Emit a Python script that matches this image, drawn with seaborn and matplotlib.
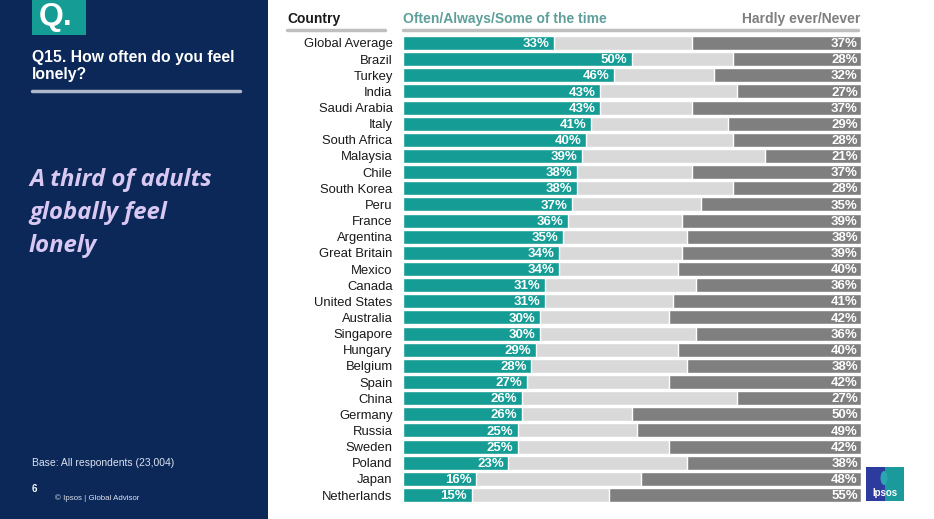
import matplotlib
matplotlib.use("Agg")
import matplotlib.pyplot as plt
import matplotlib.patches as mpatches
import pandas as pd
import seaborn as sns

# --- Data ---
countries = [
    "Global Average", "Brazil", "Turkey", "India", "Saudi Arabia", "Italy",
    "South Africa", "Malaysia", "Chile", "South Korea", "Peru", "France",
    "Argentina", "Great Britain", "Mexico", "Canada", "United States",
    "Australia", "Singapore", "Hungary", "Belgium", "Spain", "China",
    "Germany", "Russia", "Sweden", "Poland", "Japan", "Netherlands",
]
often = [33, 50, 46, 43, 43, 41, 40, 39, 38, 38, 37, 36, 35, 34, 34, 31, 31,
         30, 30, 29, 28, 27, 26, 26, 25, 25, 23, 16, 15]
never = [37, 28, 32, 27, 37, 29, 28, 21, 37, 28, 35, 39, 38, 39, 40, 36, 41,
         42, 36, 40, 38, 42, 27, 50, 49, 42, 38, 48, 55]

# --- Colours ---
NAVY = "#0b2859"
TEAL = "#149c95"
LIGHT = "#d9d9d9"
DARK = "#7f7f7f"

df = pd.DataFrame({"Country": countries, "often": often, "never": never})
df["total"] = 100
df["upto_mid"] = 100 - df["never"]

sns.set_style("white")
plt.rcParams["font.family"] = ["Liberation Sans", "DejaVu Sans"]

W, H = 934, 519
fig = plt.figure(figsize=(W / 100, H / 100), dpi=100)
fig.patch.set_facecolor("white")


def fx(px):
    return px / W


def fy(py):
    return 1 - py / H


# --- Left panel ---
fig.patches.append(mpatches.Rectangle((0, 0), fx(268), 1, transform=fig.transFigure,
                                      facecolor=NAVY, edgecolor="none", zorder=0))
fig.patches.append(mpatches.Rectangle((fx(32), fy(35)), fx(54), fy(0) - fy(35),
                                      transform=fig.transFigure, facecolor=TEAL,
                                      edgecolor="none", zorder=1))
fig.text(fx(39), fy(17), "Q.", color="white", fontsize=23, fontweight="bold",
         va="center", ha="left")
fig.text(fx(32), fy(66), "Q15. How often do you feel\nlonely?", color="white",
         fontsize=11.3, fontweight="bold", va="center", ha="left", linespacing=1.2)
fig.add_artist(plt.Line2D([fx(32), fx(240)], [fy(91), fy(91)], color="#aeb9cc",
                          lw=2.5, transform=fig.transFigure))
fig.text(fx(29), fy(213), "A third of adults\nglobally feel\nlonely", color="#d8c8f2",
         fontsize=17.2, fontweight="bold", style="italic", va="center", ha="left",
         linespacing=1.5, family=["Open Sans", "DejaVu Sans"])
fig.text(fx(32), fy(463), "Base: All respondents (23,004)", color="#dde3ee",
         fontsize=7.5, va="center", ha="left")
fig.text(fx(32), fy(489), "6", color="white", fontsize=7, fontweight="bold",
         va="center", ha="left")
fig.text(fx(55), fy(498), "\u00a9 Ipsos | Global Advisor", color="#dde3ee",
         fontsize=5.7, va="center", ha="left")

# --- Header ---
fig.text(fx(287), fy(19), "Country", color="#1a1a1a", fontsize=10,
         fontweight="bold", va="center", ha="left")
fig.text(fx(403), fy(19), "Often/Always/Some of the time", color="#5e9f9b",
         fontsize=10, fontweight="bold", va="center", ha="left")
fig.text(fx(860), fy(19), "Hardly ever/Never", color="#7f7f7f", fontsize=10,
         fontweight="bold", va="center", ha="right")
for x0, x1 in [(287, 385), (403, 858)]:
    fig.add_artist(plt.Line2D([fx(x0), fx(x1)], [fy(29.5), fy(29.5)], color="#bfbfbf",
                              lw=2.5, transform=fig.transFigure))

# --- Bars ---
top_px, bottom_px = 34.9, 503.1
ax = fig.add_axes([fx(403), fy(bottom_px), fx(861) - fx(403),
                   (bottom_px - top_px) / H])
bar_w = 0.87
sns.barplot(data=df, y="Country", x="total", color=DARK, width=bar_w,
            orient="h", ax=ax, saturation=1)
sns.barplot(data=df, y="Country", x="upto_mid", color=LIGHT, width=bar_w,
            orient="h", ax=ax, saturation=1)
sns.barplot(data=df, y="Country", x="often", color=TEAL, width=bar_w,
            orient="h", ax=ax, saturation=1)

ax.set_xlim(0, 100)
ax.set_ylim(len(countries) - 0.5, -0.5)
ax.set_xlabel("")
ax.set_ylabel("")
ax.set_xticks([])
ax.tick_params(axis="y", length=0, pad=7.5, labelsize=9.4, labelcolor="#1a1a1a")
for s in ax.spines.values():
    s.set_visible(False)
ax.set_facecolor("none")

for i, (o, n) in enumerate(zip(often, never)):
    ax.text(o - 1.0, i + 0.07, f"{o}%", color="white", fontsize=9.5,
            fontweight="bold", ha="right", va="center")
    ax.text(99.3, i + 0.07, f"{n}%", color="white", fontsize=9.5,
            fontweight="bold", ha="right", va="center")

# --- Ipsos logo ---
fig.patches.append(mpatches.Rectangle((fx(866), fy(501)), fx(38), fy(467) - fy(501),
                                      transform=fig.transFigure, facecolor="#2d3a9e",
                                      edgecolor="none"))
fig.patches.append(mpatches.Rectangle((fx(885), fy(501)), fx(19), fy(467) - fy(501),
                                      transform=fig.transFigure, facecolor="#1a9a9a",
                                      edgecolor="none"))
fig.patches.append(mpatches.Ellipse((fx(884), fy(478)), fx(7), fy(471) - fy(485),
                                    transform=fig.transFigure, facecolor="#2aa6b0",
                                    edgecolor="none"))
fig.text(fx(885), fy(493), "Ipsos", color="white", fontsize=7, fontweight="bold",
         ha="center", va="center")

fig.savefig("out.png", dpi=100, facecolor=fig.get_facecolor())
